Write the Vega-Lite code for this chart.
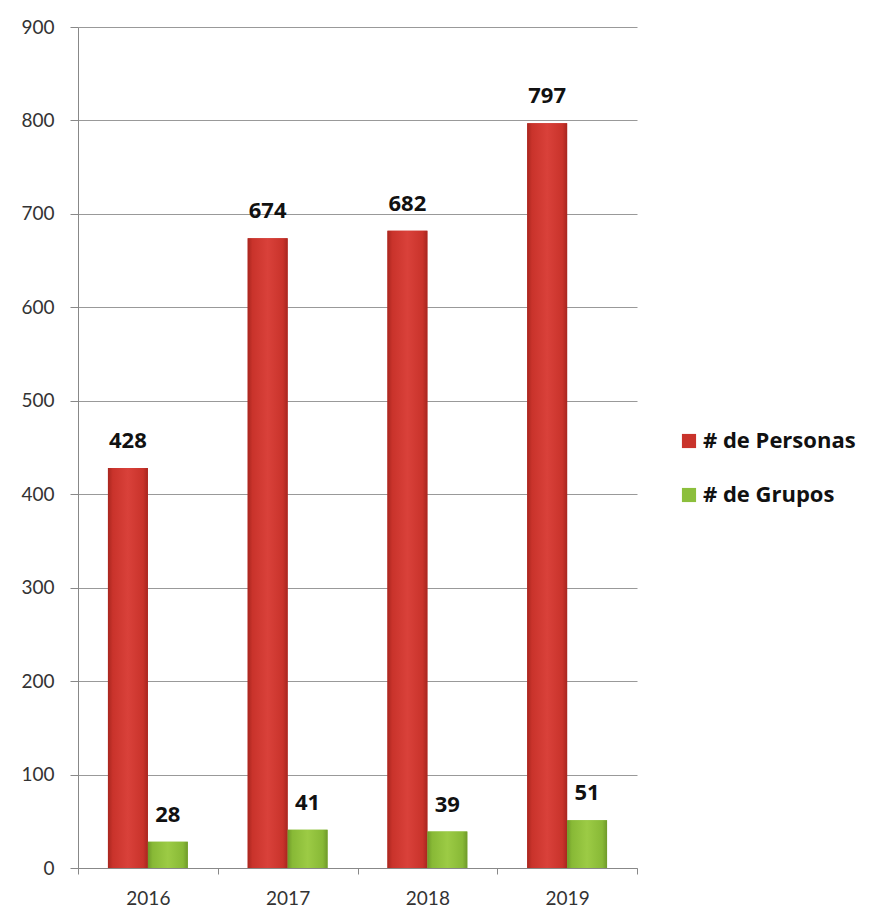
{
  "$schema": "https://vega.github.io/schema/vega-lite/v6.json",
  "autosize": {"type": "none"},
  "width": 559,
  "height": 841,
  "padding": {"left": 78, "top": 27, "right": 240, "bottom": 48},
  "background": "white",
  "data": {"values": [
    {"year": "2016", "serie": "# de Personas", "value": 428},
    {"year": "2016", "serie": "# de Grupos", "value": 28},
    {"year": "2017", "serie": "# de Personas", "value": 674},
    {"year": "2017", "serie": "# de Grupos", "value": 41},
    {"year": "2018", "serie": "# de Personas", "value": 682},
    {"year": "2018", "serie": "# de Grupos", "value": 39},
    {"year": "2019", "serie": "# de Personas", "value": 797},
    {"year": "2019", "serie": "# de Grupos", "value": 51}
  ]},
  "encoding": {
    "x": {"field": "year", "type": "nominal", "scale": {"paddingInner": 0, "paddingOuter": 0},
      "axis": {"title": null, "labelAngle": 0, "labelFont": "Lato", "labelFontSize": 19, "labelColor": "#333", "labelPadding": 15,
        "tickBand": "extent", "tickColor": "#888", "tickSize": 6, "domainColor": "#888", "grid": false}},
    "xOffset": {"field": "serie", "sort": ["# de Personas", "# de Grupos"], "scale": {"domain": ["# de Personas", "# de Grupos"], "paddingInner": 0, "paddingOuter": 0.75}},
    "y": {"field": "value", "type": "quantitative", "scale": {"domain": [0, 900], "nice": false},
      "axis": {"title": null, "values": [0,100,200,300,400,500,600,700,800,900], "labelFont": "Lato", "labelFontSize": 19, "labelColor": "#333",
        "labelPadding": 16, "tickColor": "#888", "tickSize": 8, "domainColor": "#888", "gridColor": "#999", "gridWidth": 1}}
  },
  "layer": [
    {
      "mark": {"type": "bar"},
      "encoding": {
        "color": {"field": "serie", "type": "nominal", "sort": ["# de Personas", "# de Grupos"],
          "scale": {"domain": ["# de Personas", "# de Grupos"], "range": ["#C9332B", "#8CBF3C"]},
          "legend": {"title": null, "orient": "none", "legendX": 600, "legendY": 403, "labelFont": "Open Sans", "labelFontSize": 22, "labelFontWeight": "bold", "labelColor": "#111",
            "symbolType": "square", "symbolSize": 200, "symbolStrokeWidth": 0, "rowPadding": 32, "labelOffset": 3}}
      }
    },
    {
      "transform": [{"filter": "datum.serie === '# de Personas'"}],
      "mark": {"type": "bar", "color": {"gradient": "linear", "x1": 0, "y1": 0, "x2": 1, "y2": 0, "stops": [{"offset": 0, "color": "#A8261F"}, {"offset": 0.12, "color": "#C9332B"}, {"offset": 0.5, "color": "#D9413A"}, {"offset": 0.88, "color": "#C9332B"}, {"offset": 1, "color": "#A8261F"}]}},
      "encoding": {}
    },
    {
      "transform": [{"filter": "datum.serie === '# de Grupos'"}],
      "mark": {"type": "bar", "color": {"gradient": "linear", "x1": 0, "y1": 0, "x2": 1, "y2": 0, "stops": [{"offset": 0, "color": "#6F9A2A"}, {"offset": 0.12, "color": "#88B936"}, {"offset": 0.5, "color": "#9CCB45"}, {"offset": 0.88, "color": "#88B936"}, {"offset": 1, "color": "#6F9A2A"}]}},
      "encoding": {}
    },
    {
      "mark": {"type": "text", "dy": -15, "font": "Open Sans", "fontSize": 22, "fontWeight": "bold", "color": "#111", "baseline": "bottom"},
      "encoding": {"text": {"field": "value", "type": "quantitative"}}
    }
  ],
  "config": {"view": {"stroke": null}}
}
